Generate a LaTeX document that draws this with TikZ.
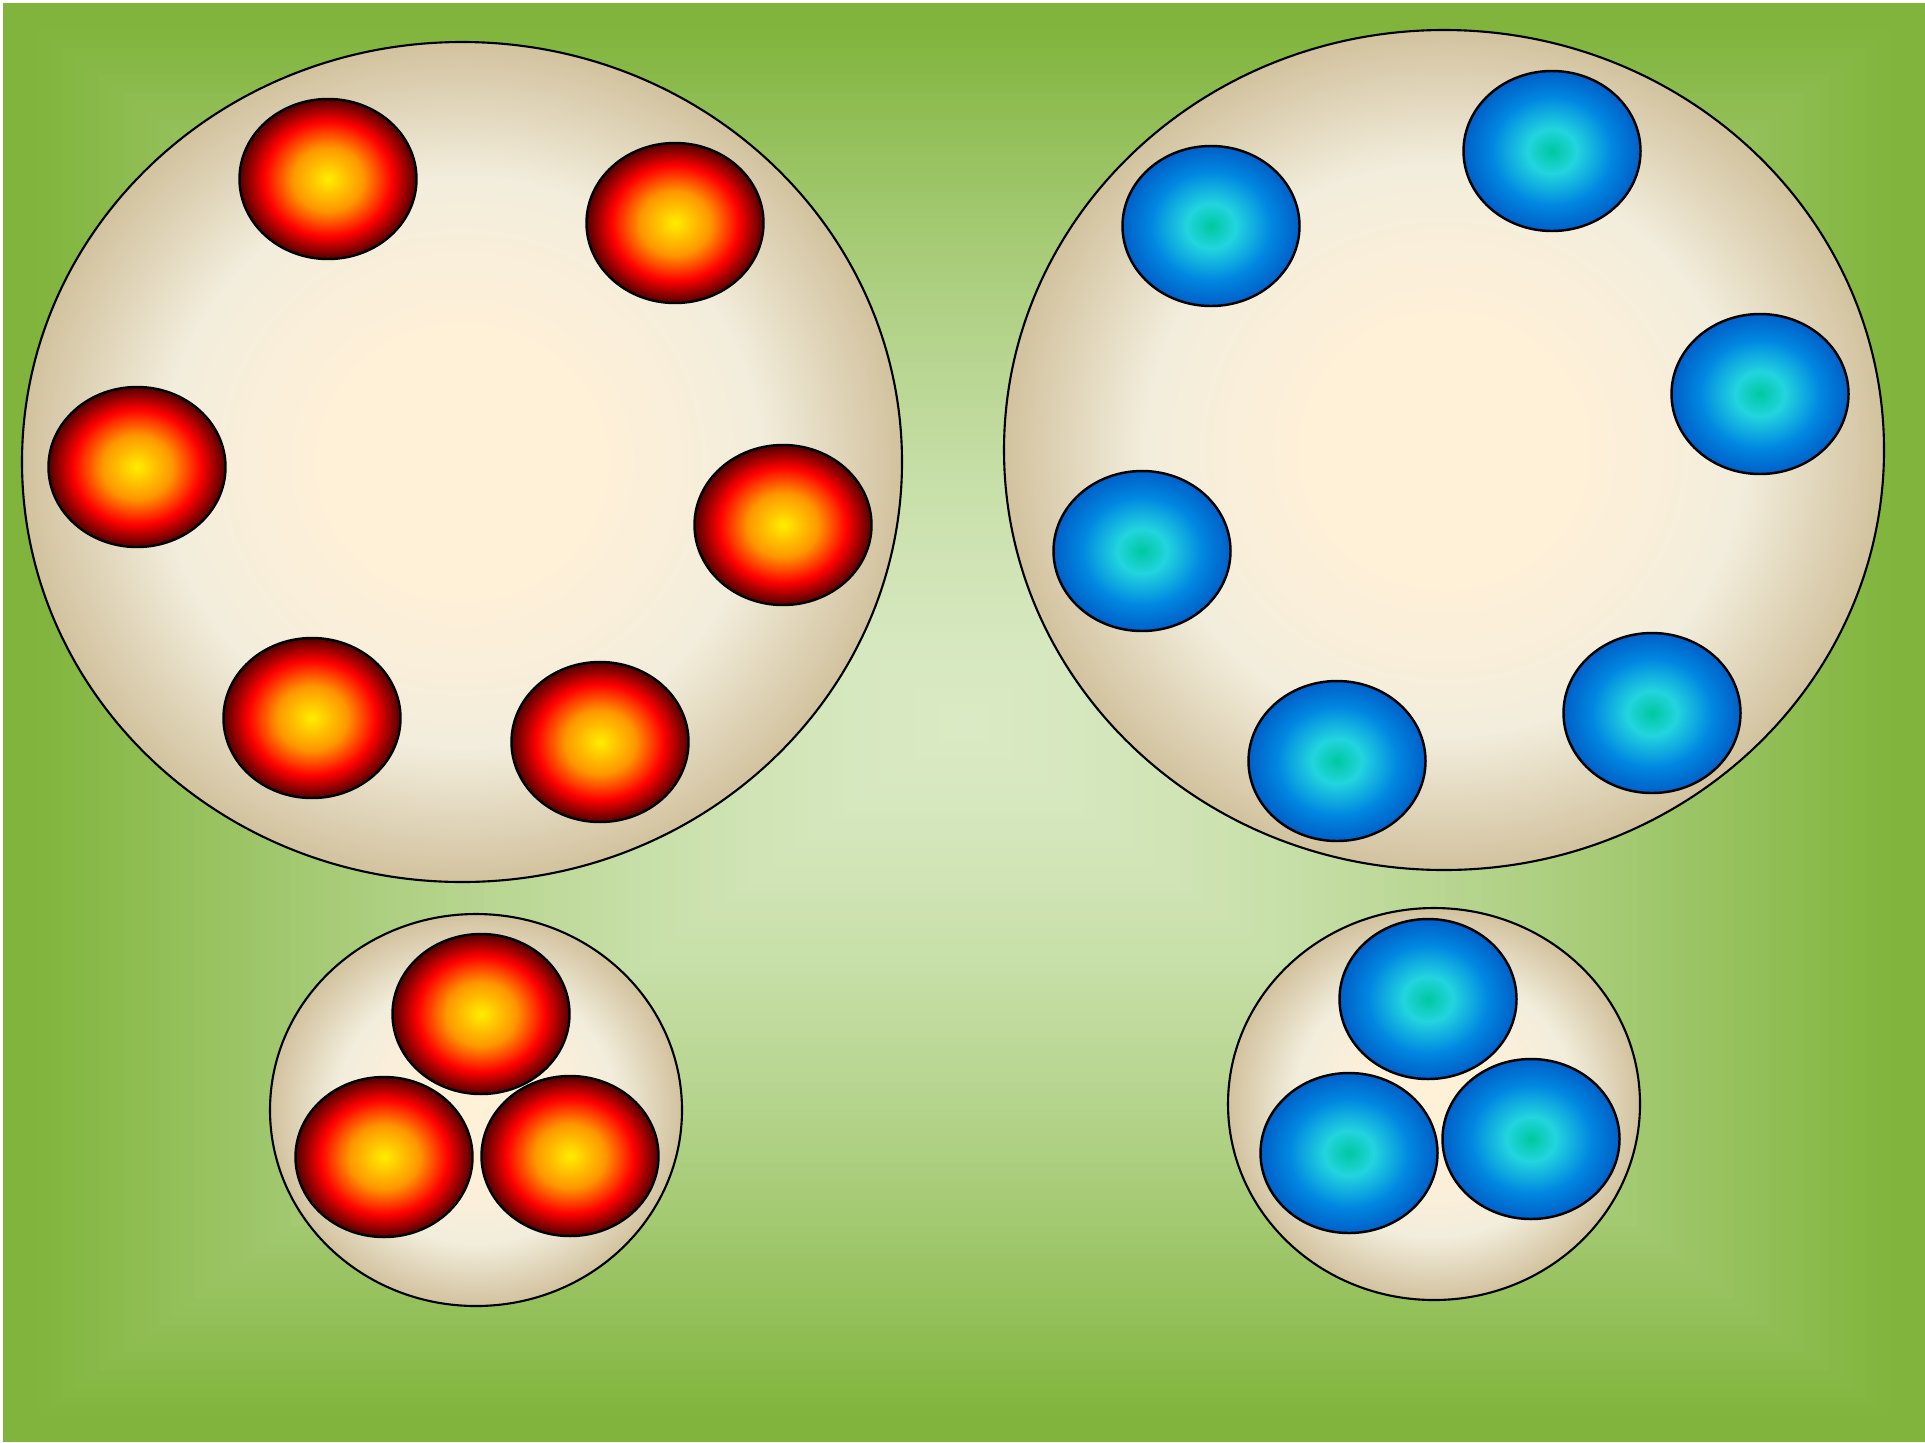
\documentclass[tikz,border=0pt]{standalone}
\usepackage{xcolor}
\definecolor{Lawn}{RGB}{128,180,60}
\definecolor{LawnLight}{RGB}{218,234,196}
\definecolor{DishEdge}{RGB}{210,194,158}
\definecolor{DishRing}{RGB}{242,237,220}
\definecolor{DishMid}{RGB}{255,240,216}
\definecolor{RedCore}{RGB}{255,238,0}
\definecolor{RedOrange}{RGB}{255,150,0}
\definecolor{RedMain}{RGB}{255,0,0}
\definecolor{RedDark}{RGB}{80,0,0}
\definecolor{BlueCore}{RGB}{0,200,160}
\definecolor{BlueCyan}{RGB}{35,212,222}
\definecolor{BlueMain}{RGB}{0,135,225}
\definecolor{BlueDark}{RGB}{0,95,200}
\pgfdeclareradialshading{dish}{\pgfpoint{0bp}{0bp}}{color(0bp)=(DishMid); color(8bp)=(DishMid); color(17bp)=(DishRing); color(25bp)=(DishEdge); color(50bp)=(DishEdge)}
\pgfdeclareradialshading{redball}{\pgfpoint{0bp}{0bp}}{color(0bp)=(RedCore); color(10bp)=(RedOrange); color(18bp)=(RedMain); color(25bp)=(RedDark); color(50bp)=(RedDark)}
\pgfdeclareradialshading{blueball}{\pgfpoint{0bp}{0bp}}{color(0bp)=(BlueCore); color(7bp)=(BlueCyan); color(17bp)=(BlueMain); color(25bp)=(BlueDark); color(50bp)=(BlueDark)}

\begin{document}
\begin{tikzpicture}[x=0.01cm,y=-0.01cm,
  dish/.style={shading=dish,draw=black,line width=0.6pt},
  redcell/.style={shading=redball,draw=black,line width=0.7pt},
  bluecell/.style={shading=blueball,draw=black,line width=0.7pt}]
\useasboundingbox (0,0) rectangle (1925,1442);
\fill[white] (0,0) rectangle (1925,1442);
% background, light in the middle
\foreach \i in {80,79,...,1} {
  \pgfmathsetmacro\t{\i/80}
  \pgfmathsetmacro\f{min(100,100*(\t/0.97)^1.5)}
  \fill[Lawn!\f!LawnLight] (964-961*\t,722.5-719.5*\t) rectangle (964+961*\t,722.5+719.5*\t);
}
% large dishes
\draw[dish] (462,462) ellipse [x radius=440,y radius=420];
\draw[dish] (1444,450) ellipse [x radius=440,y radius=420];
% small dishes
\draw[dish] (476,1110) ellipse [x radius=206,y radius=196];
\draw[dish] (1434,1104) ellipse [x radius=206,y radius=196];
% red cells
\foreach \x/\y in {328/179,675/223,137/467,783/525,312/718,600/742,481/1014,384/1157,570/1156}
  \draw[redcell] (\x,\y) ellipse [x radius=88.5,y radius=80];
% blue cells
\foreach \x/\y in {1211/226,1552/151,1760/394,1142/551,1652/713,1337/761,1428/999,1349/1153,1531/1139}
  \draw[bluecell] (\x,\y) ellipse [x radius=88.5,y radius=80];
\end{tikzpicture}
\end{document}
